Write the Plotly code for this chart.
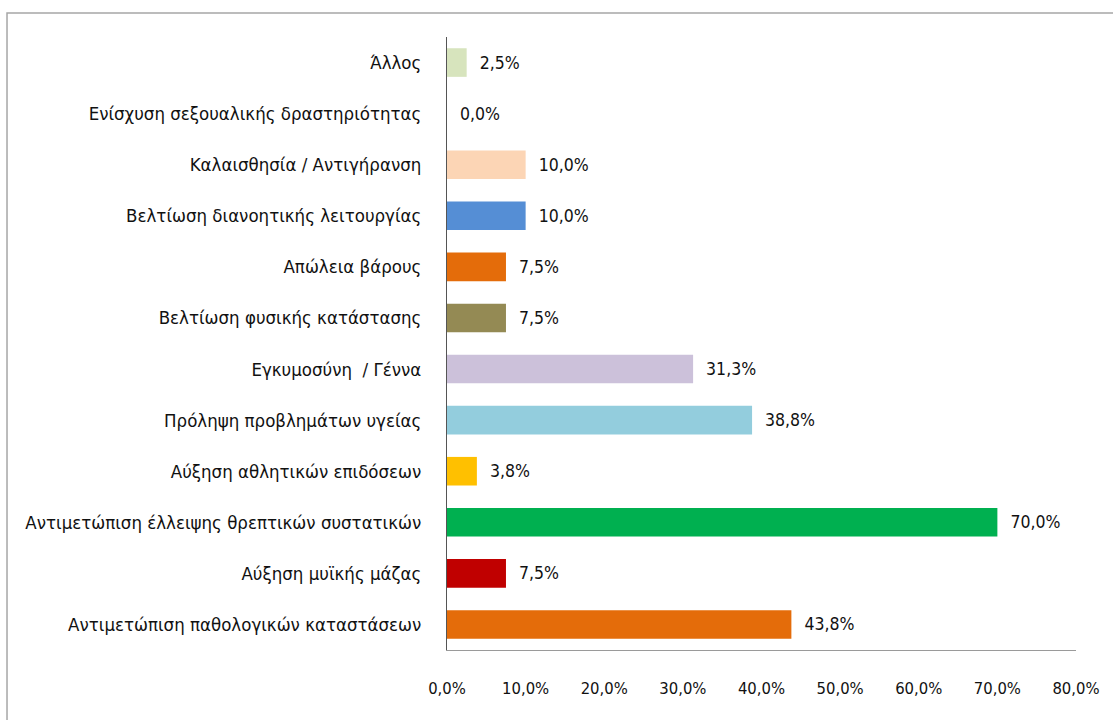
import plotly.graph_objects as go

# Categories listed bottom-to-top as they appear on the y axis
categories = [
    "Αντιμετώπιση παθολογικών καταστάσεων",
    "Αύξηση μυϊκής μάζας",
    "Αντιμετώπιση έλλειψης θρεπτικών συστατικών",
    "Αύξηση αθλητικών επιδόσεων",
    "Πρόληψη προβλημάτων υγείας",
    "Εγκυμοσύνη  / Γέννα",
    "Βελτίωση φυσικής κατάστασης",
    "Απώλεια βάρους",
    "Βελτίωση διανοητικής λειτουργίας",
    "Καλαισθησία / Αντιγήρανση",
    "Ενίσχυση σεξουαλικής δραστηριότητας",
    "Άλλος",
]
percentages = [43.8, 7.5, 70.0, 3.8, 38.8, 31.3, 7.5, 7.5, 10.0, 10.0, 0.0, 2.5]
bar_colors = [
    "#E46C0A", "#C00000", "#00B050", "#FFC000", "#93CDDD", "#CCC1DA",
    "#948A54", "#E46C0A", "#558ED5", "#FCD5B5", "#D7E4BD", "#D7E4BD",
]
tick_values = [0, 10, 20, 30, 40, 50, 60, 70, 80]
tick_labels = ["0,0%", "10,0%", "20,0%", "30,0%", "40,0%", "50,0%", "60,0%", "70,0%", "80,0%"]

FONT = "Liberation Sans Narrow, DejaVu Sans Condensed, Arial Narrow, sans-serif"

# Greek-style decimal comma, with a small lead-in gap after the bar end
value_text = ["\u00a0\u00a0" + f"{v:.1f}%".replace(".", ",") for v in percentages]

fig = go.Figure(
    go.Bar(
        x=percentages,
        y=categories,
        orientation="h",
        marker=dict(color=bar_colors, line=dict(width=0)),
        width=0.56,
        text=value_text,
        textposition="outside",
        textfont=dict(family=FONT, size=17.5, color="#111111"),
        cliponaxis=False,
    )
)

fig.update_layout(
    width=1113,
    height=720,
    margin=dict(l=447, r=37, t=37, b=70),
    paper_bgcolor="white",
    plot_bgcolor="white",
    showlegend=False,
    font=dict(family=FONT, size=16, color="#111111"),
    xaxis=dict(
        range=[0, 80],
        tickvals=tick_values,
        ticktext=tick_labels,
        showgrid=False,
        zeroline=False,
        showline=True,
        linecolor="#9A9A9A",
        linewidth=1,
        ticks="",
        ticklabelstandoff=23,
        tickfont=dict(family=FONT, size=16.5, color="#111111"),
        fixedrange=True,
    ),
    yaxis=dict(
        categoryorder="array",
        categoryarray=categories,
        showgrid=False,
        zeroline=False,
        showline=True,
        linecolor="#555555",
        linewidth=1,
        ticks="",
        ticklabelstandoff=21,
        tickfont=dict(family=FONT, size=18.5, color="#111111"),
        fixedrange=True,
    ),
    shapes=[
        dict(
            type="rect",
            xref="paper",
            yref="paper",
            x0=-0.6995,
            x1=1.3,
            y0=-0.3,
            y1=1.039,
            line=dict(color="#A6A6A6", width=1.5),
            fillcolor="rgba(0,0,0,0)",
            layer="below",
        )
    ],
)

fig.write_html("out.html")
